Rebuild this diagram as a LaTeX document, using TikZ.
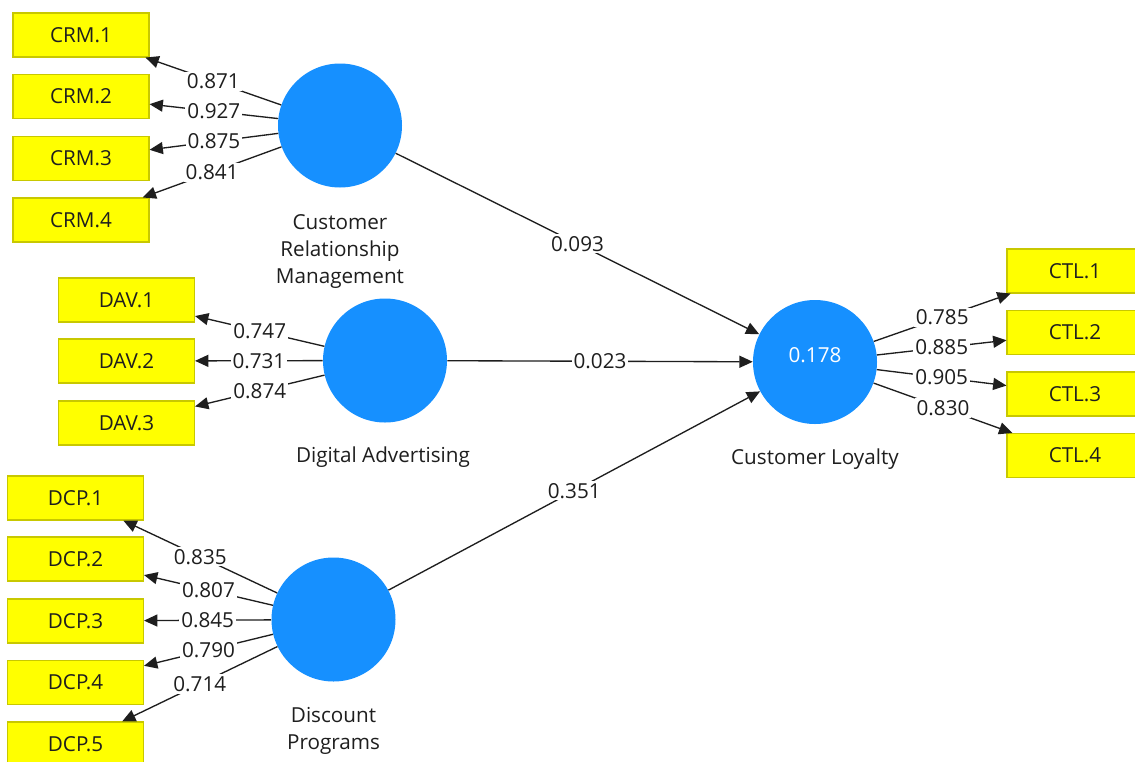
\documentclass[tikz,border=0pt]{standalone}
\usepackage{fontspec}
\setmainfont{Open Sans}
\usetikzlibrary{arrows.meta}
\definecolor{lvblue}{RGB}{22,144,255}
\definecolor{indyellow}{RGB}{255,255,0}
\definecolor{indborder}{RGB}{200,200,0}
\definecolor{ink}{RGB}{30,30,30}
\tikzset{
  latent/.style={circle, fill=lvblue, draw=none, minimum size=93pt, inner sep=0pt,
    text=white, font=\fontsize{15.5}{18}\selectfont},
  indicator/.style={rectangle, fill=indyellow, draw=indborder, line width=0.8pt,
    minimum width=102pt, minimum height=33pt, inner sep=0pt, text=ink,
    font=\fontsize{15.5}{18}\selectfont},
  caption/.style={align=center, text=ink, inner sep=0pt,
    font=\fontsize{15.5}{20.25}\selectfont},
  arr/.style={draw=ink, line width=1pt, -{Triangle[length=10pt,width=9pt]}},
  val/.style={fill=white, inner sep=1.5pt, text=ink, midway,
    font=\fontsize{15.5}{18}\selectfont}
}
\begin{document}
\begin{tikzpicture}[x=0.75pt, y=-0.75pt]
\useasboundingbox (0,0) rectangle (1135,761);
\fill[white] (0,0) rectangle (1135,761);
\clip (0,0) rectangle (1135,761);

% latent variables
\node[latent] (crm) at (340,125.5) {};
\node[latent] (dav) at (385,360.5) {};
\node[latent] (dcp) at (333.5,619.5) {};
\node[latent] (ctl) at (815,362) {};
\node[text=white, font=\fontsize{15.5}{18}\selectfont, inner sep=0pt] (r2) at (815,355) {0.178};

\node[caption] (crmcap) at (340,251) {Customer\\Relationship\\Management};
\node[caption] (davcap) at (383,457.5) {Digital Advertising};
\node[caption] (dcpcap) at (333.5,731) {Discount\\Programs};
\node[caption] (ctlcap) at (815,459.5) {Customer Loyalty};

% indicators
\node[indicator] (crm1) at (81,35) {CRM.1};
\node[indicator] (crm2) at (81,96.5) {CRM.2};
\node[indicator] (crm3) at (81,158.5) {CRM.3};
\node[indicator] (crm4) at (81,220) {CRM.4};

\node[indicator] (dav1) at (126.5,300) {DAV.1};
\node[indicator] (dav2) at (126.5,361) {DAV.2};
\node[indicator] (dav3) at (126.5,423) {DAV.3};

\node[indicator] (dcp1) at (75.5,498) {DCP.1};
\node[indicator] (dcp2) at (75.5,559) {DCP.2};
\node[indicator] (dcp3) at (75.5,621) {DCP.3};
\node[indicator] (dcp4) at (75.5,682.5) {DCP.4};
\node[indicator] (dcp5) at (75.5,744) {DCP.5};

\node[indicator] (ctl1) at (1075,271) {CTL.1};
\node[indicator] (ctl2) at (1075,332.5) {CTL.2};
\node[indicator] (ctl3) at (1075,394) {CTL.3};
\node[indicator] (ctl4) at (1075,455.5) {CTL.4};

% outer loadings
\draw[arr] (crm) -- node[val] {0.871} (crm1);
\draw[arr] (crm) -- node[val] {0.927} (crm2);
\draw[arr] (crm) -- node[val] {0.875} (crm3);
\draw[arr] (crm) -- node[val] {0.841} (crm4);

\draw[arr] (dav) -- node[val] {0.747} (dav1);
\draw[arr] (dav) -- node[val] {0.731} (dav2);
\draw[arr] (dav) -- node[val] {0.874} (dav3);

\draw[arr] (dcp) -- node[val] {0.835} (dcp1);
\draw[arr] (dcp) -- node[val] {0.807} (dcp2);
\draw[arr] (dcp) -- node[val] {0.845} (dcp3);
\draw[arr] (dcp) -- node[val] {0.790} (dcp4);
\draw[arr] (dcp) -- node[val] {0.714} (dcp5);

\draw[arr] (ctl) -- node[val] {0.785} (ctl1);
\draw[arr] (ctl) -- node[val] {0.885} (ctl2);
\draw[arr] (ctl) -- node[val] {0.905} (ctl3);
\draw[arr] (ctl) -- node[val] {0.830} (ctl4);

% path coefficients
\draw[arr] (crm) -- node[val] {0.093} (ctl);
\draw[arr] (dav) -- node[val] {0.023} (ctl);
\draw[arr] (dcp) -- node[val] {0.351} (ctl);
\end{tikzpicture}
\end{document}
